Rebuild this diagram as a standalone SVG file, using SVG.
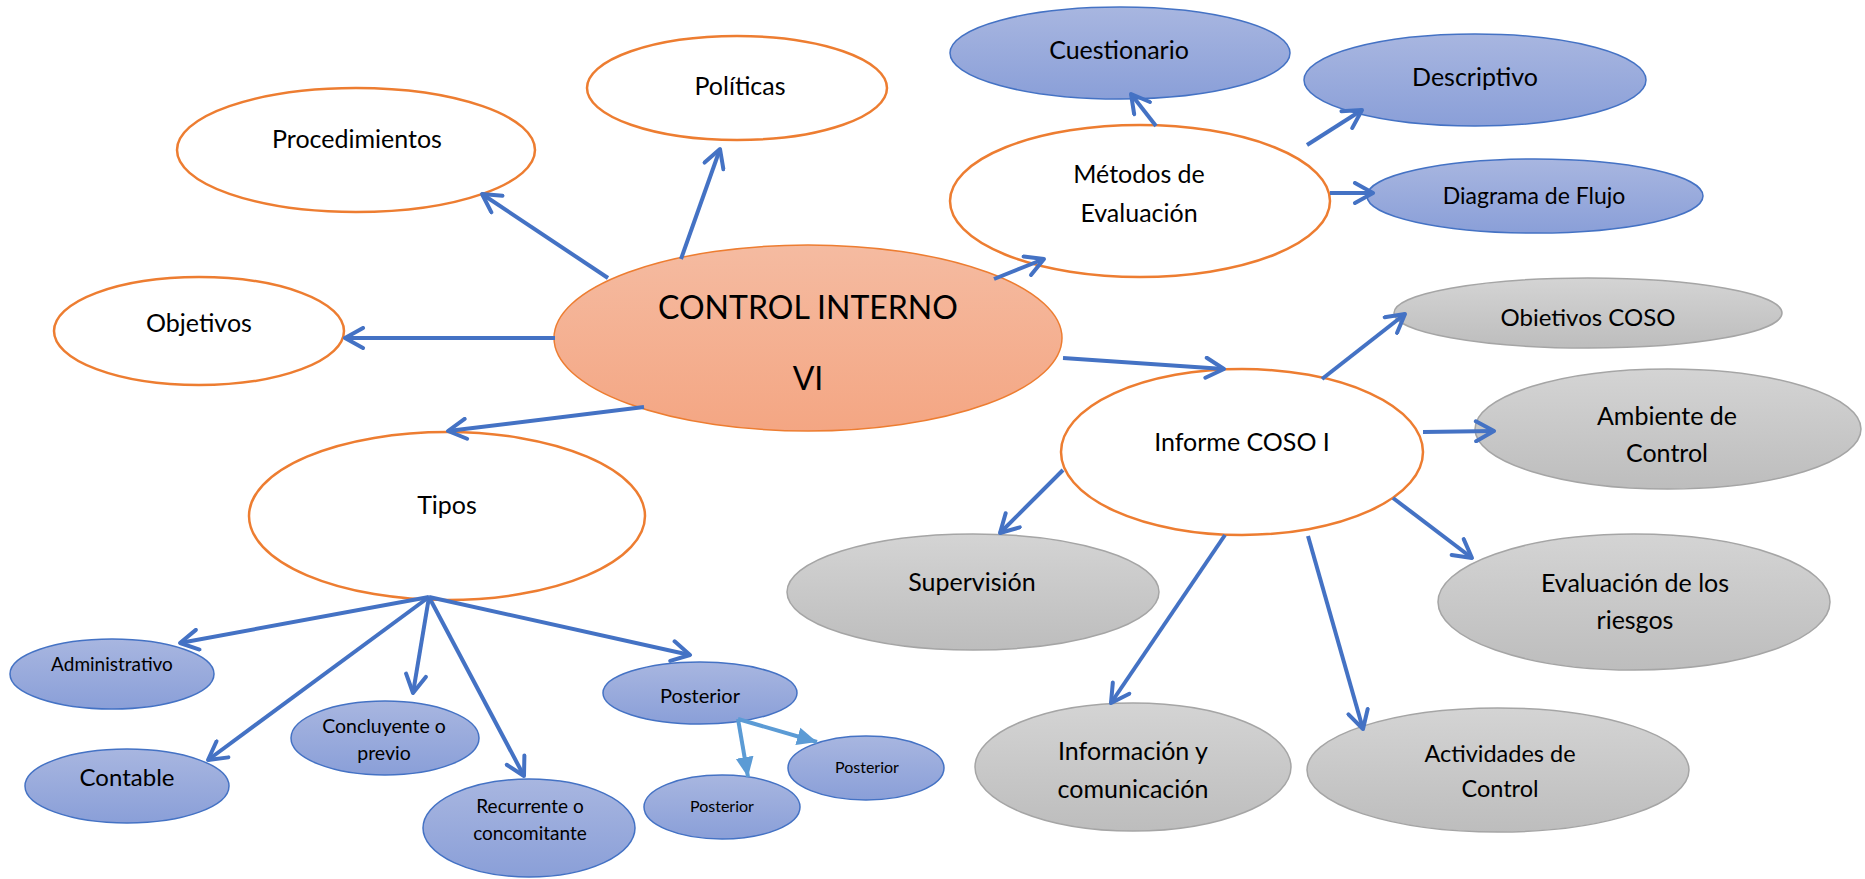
<svg xmlns="http://www.w3.org/2000/svg" width="1865" height="879" viewBox="0 0 1865 879">
<defs>
<linearGradient id="gOr" x1="0" y1="0" x2="0" y2="1"><stop offset="0" stop-color="#f5bba1"/><stop offset="1" stop-color="#f4a683"/></linearGradient>
<linearGradient id="gBl" x1="0" y1="0" x2="0" y2="1"><stop offset="0" stop-color="#a8b6e0"/><stop offset="1" stop-color="#8a9fd8"/></linearGradient>
<linearGradient id="gGr" x1="0" y1="0" x2="0" y2="1"><stop offset="0" stop-color="#d4d4d4"/><stop offset="1" stop-color="#bdbdbd"/></linearGradient>
<marker id="ah" markerUnits="userSpaceOnUse" viewBox="0 0 26 24" markerWidth="26" markerHeight="24" refX="22" refY="12" orient="auto">
<path d="M4,2 L22,12 L4,22" fill="none" stroke="#4472c4" stroke-width="4" stroke-linecap="round" stroke-linejoin="round"/>
</marker>
<marker id="ahl" markerUnits="userSpaceOnUse" viewBox="0 0 22 20" markerWidth="22" markerHeight="20" refX="20" refY="10" orient="auto">
<path d="M0,1 L20,10 L0,19 Z" fill="#5b9bd5"/>
</marker>
<style>
.t{font-family:Lato,"Liberation Sans",sans-serif;fill:#000;text-anchor:middle}
.wo{fill:#fff;stroke:#ed7d31;stroke-width:2.5}
.co{fill:url(#gOr);stroke:#ed7d31;stroke-width:1.5}
.bl{fill:url(#gBl);stroke:#4472c4;stroke-width:1.5}
.gr{fill:url(#gGr);stroke:#a5a5a5;stroke-width:1.5}
.ln{fill:none;stroke:#4472c4;stroke-width:4;marker-end:url(#ah)}
.lnl{fill:none;stroke:#5b9bd5;stroke-width:4;marker-end:url(#ahl)}
</style>
</defs>

<g id="n-central"><ellipse class="co" cx="808" cy="338" rx="254" ry="93"/>
<text class="t" x="808" y="319" font-size="32">CONTROL INTERNO</text>
<text class="t" x="808" y="390" font-size="32">VI</text></g>

<g id="n-politicas"><ellipse class="wo" cx="737" cy="88" rx="150" ry="52"/><text class="t" x="740" y="95" font-size="25">Políticas</text></g>
<g id="n-procedimientos"><ellipse class="wo" cx="356" cy="150" rx="179" ry="62"/><text class="t" x="357" y="148" font-size="25">Procedimientos</text></g>
<g id="n-objetivos"><ellipse class="wo" cx="199" cy="331" rx="145" ry="54"/><text class="t" x="199" y="332" font-size="25">Objetivos</text></g>
<g id="n-tipos"><ellipse class="wo" cx="447" cy="516" rx="198" ry="84"/><text class="t" x="447" y="514" font-size="25">Tipos</text></g>
<g id="n-metodos"><ellipse class="wo" cx="1140" cy="201" rx="190" ry="76"/><text class="t" x="1139" y="183" font-size="25">Métodos de</text><text class="t" x="1139" y="222" font-size="25">Evaluación</text></g>
<g id="n-informe"><ellipse class="wo" cx="1242" cy="452" rx="181" ry="83"/><text class="t" x="1242" y="451" font-size="25">Informe COSO I</text></g>

<g id="n-cuestionario"><ellipse class="bl" cx="1120" cy="53" rx="170" ry="46"/><text class="t" x="1119" y="59" font-size="25">Cuestionario</text></g>
<g id="n-descriptivo"><ellipse class="bl" cx="1475" cy="80" rx="171" ry="46"/><text class="t" x="1475" y="86" font-size="25">Descriptivo</text></g>
<g id="n-diagrama"><ellipse class="bl" cx="1535" cy="196" rx="168" ry="37"/><text class="t" x="1534" y="204" font-size="23">Diagrama de Flujo</text></g>

<g id="n-administrativo"><ellipse class="bl" cx="112" cy="674" rx="102" ry="35"/><text class="t" x="112" y="671" font-size="19">Administrativo</text></g>
<g id="n-contable"><ellipse class="bl" cx="127" cy="786" rx="102" ry="37"/><text class="t" x="127" y="786" font-size="24">Contable</text></g>
<g id="n-concluyente"><ellipse class="bl" cx="385" cy="738" rx="94" ry="37"/><text class="t" x="384" y="733" font-size="19.5">Concluyente o</text><text class="t" x="384" y="760" font-size="19.5">previo</text></g>
<g id="n-recurrente"><ellipse class="bl" cx="529" cy="828" rx="106" ry="49"/><text class="t" x="530" y="813" font-size="19">Recurrente o</text><text class="t" x="530" y="840" font-size="19">concomitante</text></g>
<g id="n-posterior"><ellipse class="bl" cx="700" cy="693" rx="97" ry="31"/><text class="t" x="700" y="703" font-size="20">Posterior</text></g>
<g id="n-posterior2"><ellipse class="bl" cx="722" cy="807" rx="78" ry="32"/><text class="t" x="722" y="812" font-size="16">Posterior</text></g>
<g id="n-posterior3"><ellipse class="bl" cx="866" cy="768" rx="78" ry="32"/><text class="t" x="867" y="773" font-size="16">Posterior</text></g>

<g id="n-obietivos-coso"><ellipse class="gr" cx="1588" cy="313" rx="194" ry="35"/><text class="t" x="1588" y="326" font-size="24">Obietivos COSO</text></g>
<g id="n-ambiente"><ellipse class="gr" cx="1668" cy="429" rx="193" ry="60"/><text class="t" x="1667" y="425" font-size="25">Ambiente de</text><text class="t" x="1667" y="462" font-size="25">Control</text></g>
<g id="n-evaluacion"><ellipse class="gr" cx="1634" cy="602" rx="196" ry="68"/><text class="t" x="1635" y="592" font-size="25">Evaluación de los</text><text class="t" x="1635" y="629" font-size="25">riesgos</text></g>
<g id="n-supervision"><ellipse class="gr" cx="973" cy="592" rx="186" ry="58"/><text class="t" x="972" y="591" font-size="25">Supervisión</text></g>
<g id="n-informacion"><ellipse class="gr" cx="1133" cy="767" rx="158" ry="64"/><text class="t" x="1133" y="760" font-size="25">Información y</text><text class="t" x="1133" y="798" font-size="25">comunicación</text></g>
<g id="n-actividades"><ellipse class="gr" cx="1498" cy="770" rx="191" ry="62"/><text class="t" x="1500" y="762" font-size="23.5">Actividades de</text><text class="t" x="1500" y="797" font-size="23.5">Control</text></g>

<g id="connectors">
<line class="ln" x1="608" y1="278" x2="482" y2="194"/>
<line class="ln" x1="681" y1="259" x2="720" y2="149"/>
<line class="ln" x1="555" y1="338" x2="345" y2="338"/>
<line class="ln" x1="644" y1="407" x2="448" y2="431"/>
<line class="ln" x1="994" y1="279" x2="1044" y2="259"/>
<line class="ln" x1="1063" y1="358" x2="1224" y2="369"/>
<line class="ln" x1="1156" y1="126" x2="1131" y2="94"/>
<line class="ln" x1="1307" y1="145" x2="1362" y2="110"/>
<line class="ln" x1="1330" y1="193" x2="1373" y2="193"/>
<line class="ln" x1="1322" y1="379" x2="1405" y2="314"/>
<line class="ln" x1="1423" y1="432" x2="1494" y2="431"/>
<line class="ln" x1="1393" y1="498" x2="1472" y2="558"/>
<line class="ln" x1="1063" y1="470" x2="1000" y2="533"/>
<line class="ln" x1="1225" y1="535" x2="1111" y2="703"/>
<line class="ln" x1="1308" y1="536" x2="1363" y2="729"/>
<line class="ln" x1="429" y1="597" x2="180" y2="643"/>
<line class="ln" x1="429" y1="597" x2="208" y2="760"/>
<line class="ln" x1="429" y1="597" x2="413" y2="693"/>
<line class="ln" x1="429" y1="597" x2="524" y2="776"/>
<line class="ln" x1="429" y1="597" x2="690" y2="655"/>
<line class="lnl" x1="738" y1="719" x2="748" y2="777"/>
<line class="lnl" x1="738" y1="719" x2="817" y2="742"/>
</g>
</svg>
